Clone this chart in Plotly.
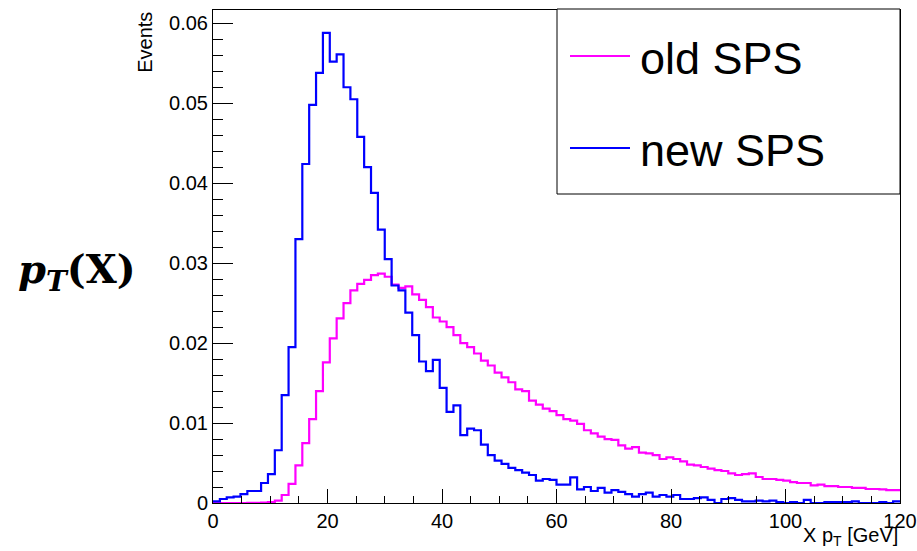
import numpy as np
import plotly.graph_objects as go

# Histogram binning: 100 bins of 1.2 GeV from 0 to 120 GeV
n_bins = 100
x_min, x_max = 0.0, 120.0
bin_edges = np.linspace(x_min, x_max, n_bins + 1)

# Normalised bin contents
old_sps = [
    0.0, 0.0, 0.0, 0.0, 0.0, 0.00002, 0.00003, 0.00005, 0.0001, 0.0003,
    0.0010, 0.0024, 0.0047, 0.0075, 0.0105, 0.0140, 0.0176, 0.0206, 0.0231, 0.0250,
    0.0266, 0.0274, 0.0279, 0.0285, 0.0287, 0.0283, 0.0273, 0.0269, 0.0271, 0.0261,
    0.0254, 0.0245, 0.0232, 0.0227, 0.0220, 0.0210, 0.0200, 0.0195, 0.0187, 0.0178,
    0.0172, 0.0163, 0.0157, 0.0151, 0.0142, 0.0140, 0.0128, 0.0123, 0.0118, 0.0115,
    0.0110, 0.0105, 0.0103, 0.0099, 0.0091, 0.0087, 0.0083, 0.0080, 0.0079, 0.0072,
    0.0068, 0.0070, 0.0063, 0.0062, 0.0060, 0.0055, 0.0057, 0.0055, 0.0052, 0.0048,
    0.0047, 0.0045, 0.0043, 0.0041, 0.0040, 0.0037, 0.0035, 0.0036, 0.0037, 0.00325,
    0.0030, 0.0030, 0.0029, 0.0028, 0.0026, 0.0025, 0.0025, 0.0022, 0.0023, 0.0021,
    0.0021, 0.0020, 0.0020, 0.0019, 0.0019, 0.00175, 0.00175, 0.0017, 0.0016, 0.0016,
]

new_sps = [
    0.0002, 0.0005, 0.0007, 0.0008, 0.0011, 0.0015, 0.0015, 0.0025, 0.0036, 0.0066,
    0.0135, 0.0195, 0.0330, 0.0424, 0.0498, 0.0538, 0.0588, 0.0552, 0.0561, 0.0520,
    0.0505, 0.0458, 0.0420, 0.0388, 0.0342, 0.0305, 0.0272, 0.0266, 0.0238, 0.0210,
    0.0177, 0.0165, 0.0179, 0.0144, 0.0114, 0.0122, 0.0085, 0.0093, 0.0091, 0.0073,
    0.0060, 0.0053, 0.0049, 0.0044, 0.0041, 0.0038, 0.0035, 0.0028, 0.0030, 0.0029,
    0.0023, 0.0023, 0.0032, 0.0017, 0.0020, 0.0015, 0.0019, 0.0013, 0.0016, 0.0014,
    0.0011, 0.0008, 0.0011, 0.0013, 0.0008, 0.0010, 0.0008, 0.0010, 0.0005, 0.0005,
    0.0006, 0.0007, 0.0004, 0.0000, 0.0005, 0.0006, 0.0004, 0.0002, 0.0002, 0.0003,
    0.0002, 0.0003, 0.0001, 0.0000, 0.0001, 0.0000, 0.0004, 0.0000, 0.0000, 0.0001,
    0.0001, 0.0001, 0.0001, 0.0002, 0.0000, 0.0000, 0.0000, 0.0001, 0.0000, 0.0002,
]

series_names = ["old SPS", "new SPS"]
series_colors = ["#FF00FF", "#0000FF"]

# Axis ticks
x_tick_vals = [0, 20, 40, 60, 80, 100, 120]
x_tick_text = ["0", "20", "40", "60", "80", "100", "120"]
x_minor_vals = list(np.arange(0, 121, 5))
y_tick_vals = [0, 0.01, 0.02, 0.03, 0.04, 0.05, 0.06]
y_tick_text = ["0", "0.01", "0.02", "0.03", "0.04", "0.05", "0.06"]
y_minor_vals = list(np.round(np.arange(0, 0.0615, 0.002), 4))
y_top = 0.06166

FONT = "Liberation Sans, Arial, Helvetica, sans-serif"


def step_outline(values):
    """Return x/y for an 'hv' step line tracing the histogram outline."""
    xs = list(bin_edges)
    ys = list(values) + [values[-1]]
    return xs, ys


fig = go.Figure()
for name, vals, col in zip(series_names, [old_sps, new_sps], series_colors):
    xs, ys = step_outline(vals)
    fig.add_trace(go.Scatter(
        x=xs, y=ys, mode="lines", name=name,
        line=dict(color=col, width=2.2, shape="hv"),
        showlegend=False, hoverinfo="skip",
    ))

fig.update_layout(
    width=917, height=551,
    margin=dict(l=213, r=17, t=10, b=48),
    paper_bgcolor="white", plot_bgcolor="white",
    font=dict(family=FONT, size=20, color="black"),
)

fig.update_xaxes(
    range=[x_min, x_max], showgrid=False, zeroline=False, automargin=False,
    showline=True, linecolor="black", linewidth=1, mirror=True,
    tickmode="array", tickvals=x_tick_vals, ticktext=x_tick_text,
    ticks="inside", ticklen=14, tickcolor="black", tickwidth=1,
    minor=dict(tickmode="array", tickvals=x_minor_vals, ticks="inside",
               ticklen=7, tickcolor="black", tickwidth=1, showgrid=False),
    tickfont=dict(size=20),
)
fig.update_yaxes(
    range=[0, y_top], showgrid=False, zeroline=False, automargin=False,
    showline=True, linecolor="black", linewidth=1, mirror=True,
    tickmode="array", tickvals=y_tick_vals, ticktext=y_tick_text,
    ticks="inside", ticklen=20, tickcolor="black", tickwidth=1,
    minor=dict(tickmode="array", tickvals=y_minor_vals, ticks="inside",
               ticklen=10, tickcolor="black", tickwidth=1, showgrid=False),
    tickfont=dict(size=20),
)

# Axis titles in the ROOT style (right/top aligned)
fig.add_annotation(
    text="X p<sub>T</sub> [GeV]", xref="paper", yref="paper",
    x=1.0, y=-0.038, xanchor="right", yanchor="top", showarrow=False,
    font=dict(size=20),
)
fig.add_annotation(
    text="Events", xref="paper", yref="paper", textangle=-90,
    x=-0.1, y=1.0, xanchor="center", yanchor="top", showarrow=False,
    font=dict(size=20),
)

# Quantity label on the left
fig.add_annotation(
    text="<b><i>p</i></b><sub><b><i>T</i></b></sub><b>(X)</b>",
    xref="paper", yref="paper", x=-0.198, y=0.47,
    xanchor="center", yanchor="middle", showarrow=False,
    font=dict(family="DejaVu Serif, Liberation Serif, serif", size=40),
)

# Legend box drawn in pixel-equivalent paper coordinates
plot_w, plot_h = 917 - 213 - 17, 551 - 10 - 48


def px_x(p):
    return (p - 213) / plot_w


def px_y(p):
    return (503 - p) / plot_h


fig.add_shape(type="rect", xref="paper", yref="paper",
              x0=px_x(557), x1=px_x(900), y0=px_y(194), y1=px_y(9),
              line=dict(color="black", width=1), fillcolor="white", layer="above")
for name, col, ypix in zip(series_names, series_colors, [56, 148]):
    fig.add_shape(type="line", xref="paper", yref="paper",
                  x0=px_x(570), x1=px_x(630), y0=px_y(ypix), y1=px_y(ypix),
                  line=dict(color=col, width=2), layer="above")
    fig.add_annotation(text=name, xref="paper", yref="paper",
                       x=px_x(638), y=px_y(ypix + 2), xanchor="left", yanchor="middle",
                       showarrow=False, font=dict(size=45))

fig.write_html("out.html")
